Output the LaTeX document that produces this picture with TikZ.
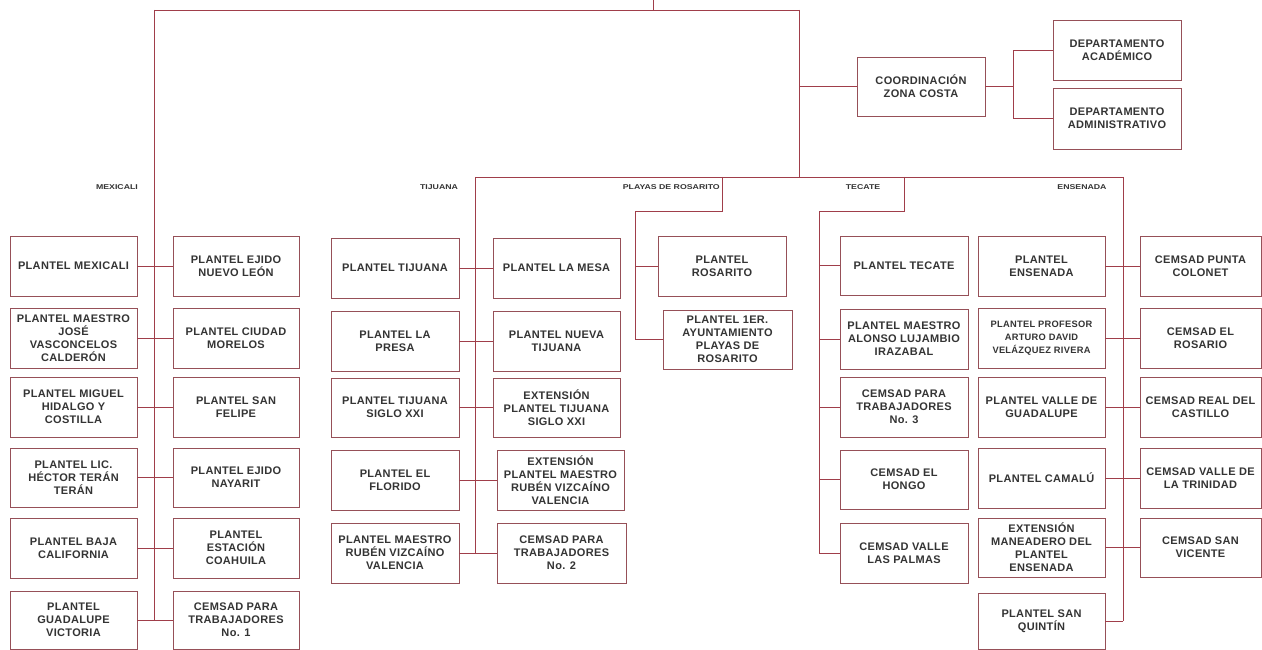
\documentclass[tikz,border=0pt]{standalone}
\usepackage{fontspec}
\setmainfont{Liberation Sans}
\definecolor{lc}{RGB}{160,62,74}
\definecolor{bc}{RGB}{150,80,88}
\definecolor{tc}{RGB}{52,52,52}
\newcommand{\OBox}[6]{%
  \node[obox, minimum width={(#4-#2)*1pt}, minimum height={(#5-#3)*1pt}] (#1) at ({(#2+#4)/2},{(#3+#5)/2}) {#6};}
\begin{document}
\begin{tikzpicture}[x=1pt,y=-1pt,
  obox/.style={draw=bc, line width=0.8pt, rectangle, inner sep=0pt, align=center,
    text=tc, font=\fontsize{11}{13}\selectfont\bfseries\addfontfeature{LetterSpace=3}},
  conn/.style={draw=lc, line width=0.8pt},
  lab/.style={text=tc, inner sep=0pt, font=\fontsize{7}{8}\selectfont\bfseries, xscale=1.25}]
\useasboundingbox (0,0) rectangle (1262,650);
\fill[white] (0,0) rectangle (1262,650);

% ---- top ----
\OBox{co}{857}{57}{985}{116}{COORDINACIÓN\\ZONA COSTA}
\OBox{acad}{1053}{20}{1181}{80}{DEPARTAMENTO\\ACADÉMICO}
\OBox{admin}{1053}{88}{1181}{149}{DEPARTAMENTO\\ADMINISTRATIVO}

% ---- Mexicali ----
\OBox{mx1L}{10}{236}{137}{296}{PLANTEL MEXICALI}
\OBox{mx2L}{10}{308}{137}{368}{PLANTEL MAESTRO\\JOSÉ\\VASCONCELOS\\CALDERÓN}
\OBox{mx3L}{10}{377}{137}{437}{PLANTEL MIGUEL\\HIDALGO Y\\COSTILLA}
\OBox{mx4L}{10}{448}{137}{507}{PLANTEL LIC.\\HÉCTOR TERÁN\\TERÁN}
\OBox{mx5L}{10}{518}{137}{578}{PLANTEL BAJA\\CALIFORNIA}
\OBox{mx6L}{10}{591}{137}{649}{PLANTEL\\GUADALUPE\\VICTORIA}
\OBox{mx1R}{173}{236}{299}{296}{PLANTEL EJIDO\\NUEVO LEÓN}
\OBox{mx2R}{173}{308}{299}{368}{PLANTEL CIUDAD\\MORELOS}
\OBox{mx3R}{173}{377}{299}{437}{PLANTEL SAN\\FELIPE}
\OBox{mx4R}{173}{448}{299}{507}{PLANTEL EJIDO\\NAYARIT}
\OBox{mx5R}{173}{518}{299}{578}{PLANTEL\\ESTACIÓN\\COAHUILA}
\OBox{mx6R}{173}{591}{299}{649}{CEMSAD PARA\\TRABAJADORES\\No. 1}

% ---- Tijuana ----
\OBox{tj1L}{331}{238}{459}{298}{PLANTEL TIJUANA}
\OBox{tj2L}{331}{311}{459}{371}{PLANTEL LA\\PRESA}
\OBox{tj3L}{331}{378}{459}{437}{PLANTEL TIJUANA\\SIGLO XXI}
\OBox{tj4L}{331}{450}{459}{510}{PLANTEL EL\\FLORIDO}
\OBox{tj5L}{331}{523}{459}{583}{PLANTEL MAESTRO\\RUBÉN VIZCAÍNO\\VALENCIA}
\OBox{tj1R}{493}{238}{620}{298}{PLANTEL LA MESA}
\OBox{tj2R}{493}{311}{620}{371}{PLANTEL NUEVA\\TIJUANA}
\OBox{tj3R}{493}{378}{620}{437}{EXTENSIÓN\\PLANTEL TIJUANA\\SIGLO XXI}
\OBox{tj4R}{497}{450}{624}{510}{EXTENSIÓN\\PLANTEL MAESTRO\\RUBÉN VIZCAÍNO\\VALENCIA}
\OBox{tj5R}{497}{523}{626}{583}{CEMSAD PARA\\TRABAJADORES\\No. 2}

% ---- Playas de Rosarito ----
\OBox{pr1}{658}{236}{786}{296}{PLANTEL\\ROSARITO}
\OBox{pr2}{663}{310}{792}{369}{PLANTEL 1ER.\\AYUNTAMIENTO\\PLAYAS DE\\ROSARITO}

% ---- Tecate ----
\OBox{tc1}{840}{236}{968}{295}{PLANTEL TECATE}
\OBox{tc2}{840}{309}{968}{369}{PLANTEL MAESTRO\\ALONSO LUJAMBIO\\IRAZABAL}
\OBox{tc3}{840}{377}{968}{437}{CEMSAD PARA\\TRABAJADORES\\No. 3}
\OBox{tc4}{840}{450}{968}{509}{CEMSAD EL\\HONGO}
\OBox{tc5}{840}{523}{968}{583}{CEMSAD VALLE\\LAS PALMAS}

% ---- Ensenada ----
\OBox{en1L}{978}{236}{1105}{296}{PLANTEL\\ENSENADA}
\OBox{en2L}{978}{308}{1105}{368}{{\fontsize{9.3}{13}\selectfont PLANTEL PROFESOR}\\{\fontsize{9.3}{13}\selectfont ARTURO DAVID}\\{\fontsize{9.3}{13}\selectfont VELÁZQUEZ RIVERA}}
\OBox{en3L}{978}{377}{1105}{437}{PLANTEL VALLE DE\\GUADALUPE}
\OBox{en4L}{978}{448}{1105}{508}{PLANTEL CAMALÚ}
\OBox{en5L}{978}{518}{1105}{577}{EXTENSIÓN\\MANEADERO DEL\\PLANTEL\\ENSENADA}
\OBox{en6}{978}{593}{1105}{649}{PLANTEL SAN\\QUINTÍN}
\OBox{en1R}{1140}{236}{1261}{296}{CEMSAD PUNTA\\COLONET}
\OBox{en2R}{1140}{308}{1261}{368}{CEMSAD EL\\ROSARIO}
\OBox{en3R}{1140}{377}{1261}{437}{CEMSAD REAL DEL\\CASTILLO}
\OBox{en4R}{1140}{448}{1261}{508}{CEMSAD VALLE DE\\LA TRINIDAD}
\OBox{en5R}{1140}{518}{1261}{577}{CEMSAD SAN\\VICENTE}

% ---- labels ----
\node[lab] (lmx) at (117,187) {MEXICALI};
\node[lab] (ltj) at (439,187) {TIJUANA};
\node[lab, anchor=east] (lpr) at (720,187) {PLAYAS DE ROSARITO};
\node[lab] (ltc) at (863,187) {TECATE};
\node[lab] (len) at (1082,187) {ENSENADA};

% ---- coordinates ----
\coordinate (root) at (653,0);
\coordinate (rootj) at (653,10);
\coordinate (mxTop) at (154,10);
\coordinate (zcTop) at (799,10);
\coordinate (lvl2) at (799,177);
\path (co.east) ++(28,0) coordinate (cj);
\coordinate (tjTop) at (475,177);
\coordinate (enTop) at (1123,177);
\coordinate (prTop) at (722,177);
\coordinate (prJ) at (722,211);
\coordinate (prJ2) at (635,211);
\coordinate (tcTop) at (904,177);
\coordinate (tcJ) at (904,211);
\coordinate (tcJ2) at (819,211);

% ---- connectors ----
\draw[conn] (root) -- (rootj);
\draw[conn] (mxTop) -- (zcTop);
\draw[conn] (mxTop) -- (mxTop |- mx6L.east);
\draw[conn] (zcTop) -- (lvl2);
\draw[conn] (co.west) -- (co.west -| zcTop);
\draw[conn] (co.east) -- (cj);
\draw[conn] (acad.west) -| (cj);
\draw[conn] (admin.west) -| (cj);

\foreach \i in {1,...,6} {\draw[conn] (mx\i L.east) -- (mx\i R.west);}

\draw[conn] (tjTop) -- (enTop);
\draw[conn] (tjTop) -- (tjTop |- tj5L.east);
\foreach \i in {1,...,5} {\draw[conn] (tj\i L.east) -- (tj\i L.east -| tj\i R.west);}

\draw[conn] (prTop) -- (prJ) -- (prJ2) -- (prJ2 |- pr2.west);
\draw[conn] (pr1.west) -- (pr1.west -| prJ2);
\draw[conn] (pr2.west) -- (pr2.west -| prJ2);

\draw[conn] (tcTop) -- (tcJ) -- (tcJ2) -- (tcJ2 |- tc5.west);
\foreach \i in {1,...,5} {\draw[conn] (tc\i.west) -- (tc\i.west -| tcJ2);}

\draw[conn] (enTop) -- (enTop |- en6.east);
\foreach \i in {1,...,5} {\draw[conn] (en\i L.east) -- (en\i L.east -| en\i R.west);}
\draw[conn] (en6.east) -- (en6.east -| enTop);
\end{tikzpicture}
\end{document}
